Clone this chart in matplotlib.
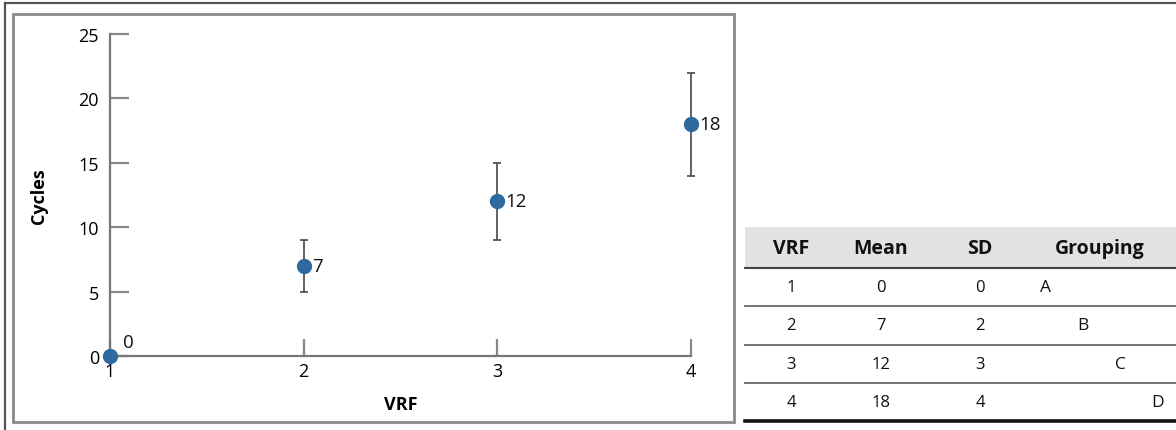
import matplotlib.pyplot as plt
from matplotlib.patches import Rectangle

plt.rcParams['font.family'] = ['Open Sans', 'DejaVu Sans']

# data
vrf = [1, 2, 3, 4]
mean_cycles = [0, 7, 12, 18]
sd_cycles = [0, 2, 3, 4]
grouping = ['A', 'B', 'C', 'D']
y_ticks = [0, 5, 10, 15, 20, 25]
headers = ['VRF', 'Mean', 'SD', 'Grouping']

W, H = 1176, 431
fig = plt.figure(figsize=(W / 100, H / 100), dpi=100)

# overlay in pixel coords for frames and the table
bg = fig.add_axes([0, 0, 1, 1])
bg.set_xlim(0, W)
bg.set_ylim(H, 0)
bg.axis('off')

bg.plot([5, W], [4, 4], color='#555555', lw=1.6)
bg.plot([5, 5], [4, H], color='#555555', lw=1.6)
bg.add_patch(Rectangle((13, 15), 721, 408, fill=False, ec='#8a8a8a', lw=2))

# table
bg.add_patch(Rectangle((745, 228), W - 745, 41, fc='#e2e2e2', ec='none'))
col_x = [791, 881, 980, 1100]
for cx, h in zip(col_x, headers):
    bg.text(cx, 249, h, ha='center', va='center', fontsize=14, fontweight='bold', color='#111111')
row_lines = [269, 307, 346, 384]
bg.plot([745, W], [row_lines[0], row_lines[0]], color='#444444', lw=1.5)
for y in row_lines[1:]:
    bg.plot([745, W], [y, y], color='#6a6a6a', lw=1.3)
bg.plot([745, W], [422, 422], color='#111111', lw=2.6)
for i in range(len(vrf)):
    yc = (row_lines[i] + (row_lines[i + 1] if i + 1 < len(row_lines) else 422)) / 2
    bg.text(col_x[0], yc, str(vrf[i]), ha='center', va='center', fontsize=12, color='#111111')
    bg.text(col_x[1], yc, str(mean_cycles[i]), ha='center', va='center', fontsize=12, color='#111111')
    bg.text(col_x[2], yc, str(sd_cycles[i]), ha='center', va='center', fontsize=12, color='#111111')
    bg.text(1046 + 37.3 * i, yc, grouping[i], ha='center', va='center', fontsize=12.5, color='#111111')

# main plot
ax = fig.add_axes([110 / W, 1 - 357 / H, (691 - 110) / W, (357 - 35) / H])
ax.patch.set_alpha(0)
ax.errorbar(vrf, mean_cycles, yerr=sd_cycles, fmt='o', color='#2e6a9e', ms=10,
            ecolor='#555555', elinewidth=1.3, capsize=3, capthick=1.3, clip_on=False, zorder=3)
for x, y in zip(vrf, mean_cycles):
    if y == 0:
        ax.annotate(str(y), (x, y), xytext=(13, 10), textcoords='offset points',
                    ha='center', va='center', fontsize=13.5, color='#111111')
    else:
        ax.annotate(str(y), (x, y), xytext=(6, 0), textcoords='offset points',
                    ha='left', va='center', fontsize=13.5, color='#111111')

ax.set_xlim(1, 4)
ax.set_ylim(0, 25)
ax.set_xticks(vrf)
ax.set_yticks(y_ticks)
for s in ['top', 'right']:
    ax.spines[s].set_visible(False)
for s in ['left', 'bottom']:
    ax.spines[s].set_color('#777777')
    ax.spines[s].set_linewidth(1.6)
ax.tick_params(axis='y', direction='in', length=14, width=1.6, color='#888888',
               labelsize=13, pad=8)
ax.tick_params(axis='x', direction='in', length=12, width=1.6, color='#888888',
               labelsize=13, pad=4)
ax.set_xlabel('VRF', fontsize=13, fontweight='bold', labelpad=11)
ax.set_ylabel('Cycles', fontsize=13, fontweight='bold', labelpad=22)

fig.savefig('out.png', dpi=100)
